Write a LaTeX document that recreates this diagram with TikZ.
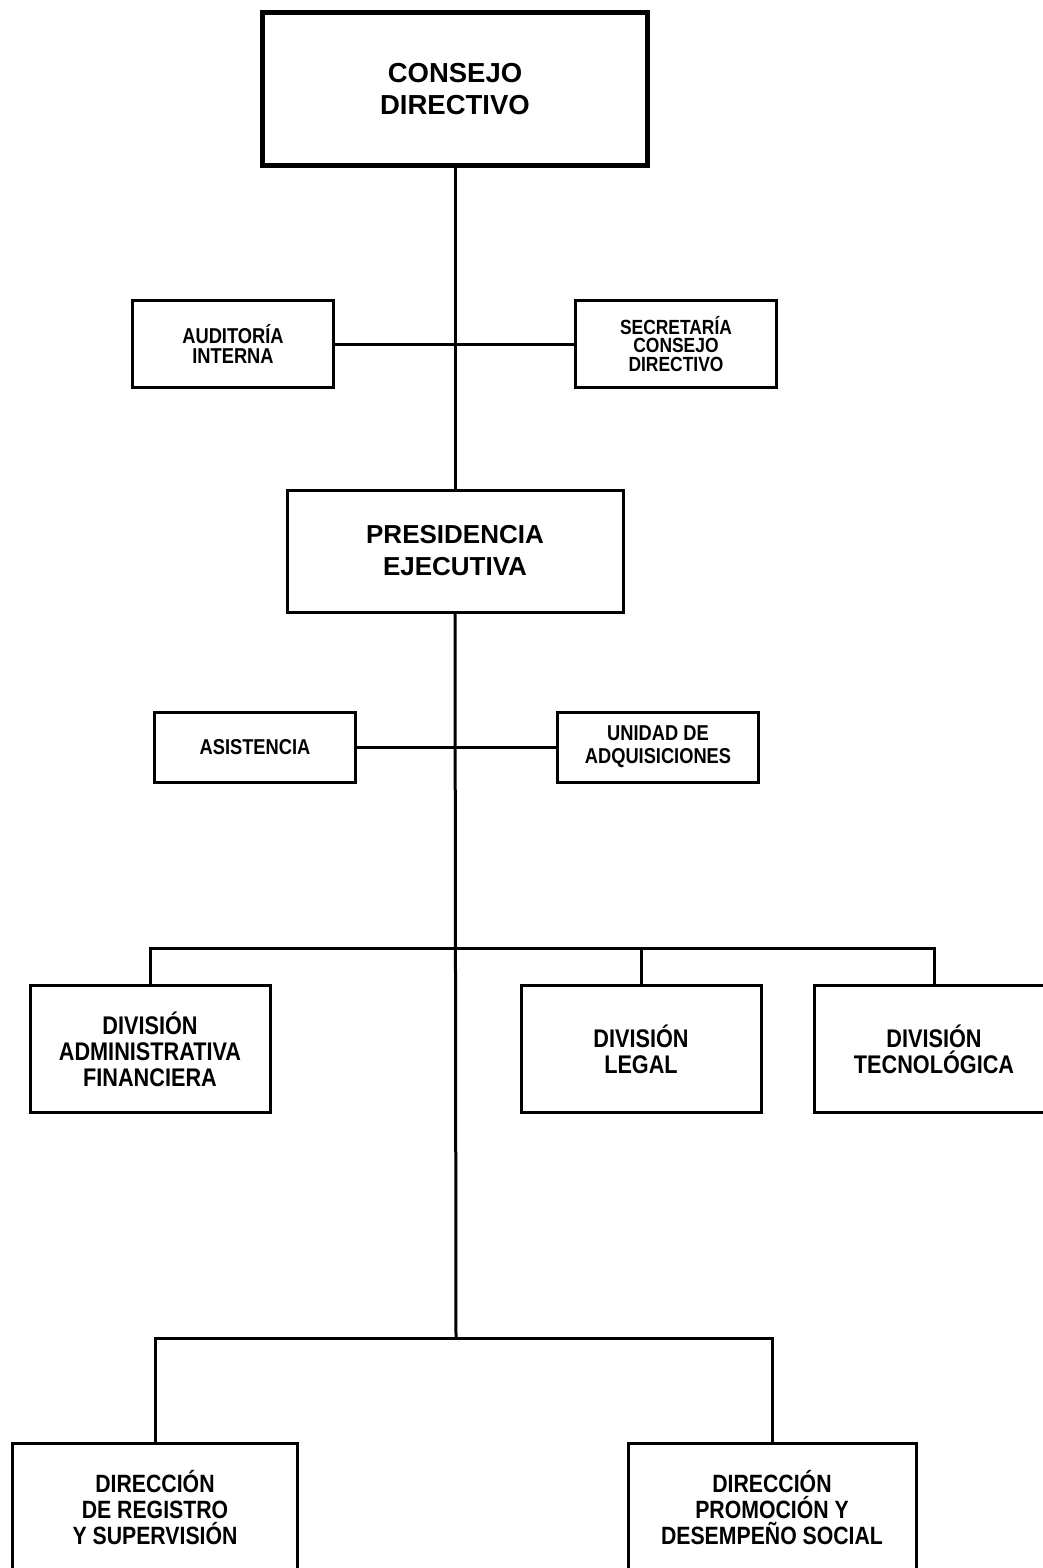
\documentclass[tikz,border=0pt]{standalone}
\usepackage{fontspec}
\setmainfont{Liberation Sans}
\newfontfamily\narrowfont[FakeStretch=0.85]{Liberation Sans}

\begin{document}
\begin{tikzpicture}[x=1pt, y=-1pt, line width=3pt,
        topbox/.style={draw, line width=5pt, minimum width=385pt, minimum height=153pt, align=center, font=\bfseries\fontsize{27.5}{32}\selectfont},
        mainbox/.style={draw, minimum width=336pt, minimum height=122pt, align=center, font=\bfseries\fontsize{26}{32}\selectfont},
        staffbox/.style={draw, minimum width=201pt, minimum height=#1, align=center, font=\narrowfont\bfseries\fontsize{21.5}{20}\selectfont},
        divbox/.style={draw, minimum width=240pt, minimum height=127pt, align=center, font=\narrowfont\bfseries\fontsize{25.5}{26}\selectfont},
        dirbox/.style={draw, minimum width=#1, minimum height=130pt, align=center, font=\narrowfont\bfseries\fontsize{25}{26}\selectfont}]
        \useasboundingbox (0,0) rectangle (1043,1568);
        \clip (0,0) rectangle (1043,1568);
        % Board
        \node[topbox] (consejo) at (455,89) {CONSEJO\\DIRECTIVO};
        \node[staffbox=87pt] (auditoria) at (233,344) {AUDITORÍA\\INTERNA};
        \node[staffbox=87pt, font=\narrowfont\bfseries\fontsize{20.5}{18.5}\selectfont] (secretaria) at (676,344) {SECRETARÍA\\CONSEJO\\DIRECTIVO};
        % Presidency
        \node[mainbox] (presidencia) at (455,551) {PRESIDENCIA\\EJECUTIVA};
        \node[staffbox=70pt] (asistencia) at (255,747) {ASISTENCIA};
        \node[staffbox=70pt, font=\narrowfont\bfseries\fontsize{21.5}{23}\selectfont] (unidad) at (658,747) {UNIDAD DE\\ADQUISICIONES};
        % Divisions
        \node[divbox] (divadm) at (150,1049) {DIVISIÓN\\ADMINISTRATIVA\\FINANCIERA};
        \node[divbox] (divlegal) at (641,1049) {DIVISIÓN\\LEGAL};
        \node[divbox] (divtec) at (934,1049) {DIVISIÓN\\TECNOLÓGICA};
        % Directions
        \node[dirbox=285pt] (dirreg) at (155,1508) {DIRECCIÓN\\DE REGISTRO\\Y SUPERVISIÓN};
        \node[dirbox=288pt] (dirprom) at (772,1508) {DIRECCIÓN\\PROMOCIÓN Y\\DESEMPEÑO SOCIAL};
        \coordinate (divbar) at (456,948);
        \coordinate (dirbar) at (456,1338);
        % Connectors
        \draw (consejo.south) -- (presidencia.north);
        \draw (auditoria.east) -- (secretaria.west);
        \draw (presidencia.south) -- (dirbar);
        \draw (asistencia.east) -- (unidad.west);
        \draw (divadm.north) |- (divbar) -| (divtec.north);
        \draw (divlegal.north) -- (divlegal.north |- divbar);
        \draw (dirreg.north) |- (dirbar) -| (dirprom.north);
    \end{tikzpicture}
\end{document}
